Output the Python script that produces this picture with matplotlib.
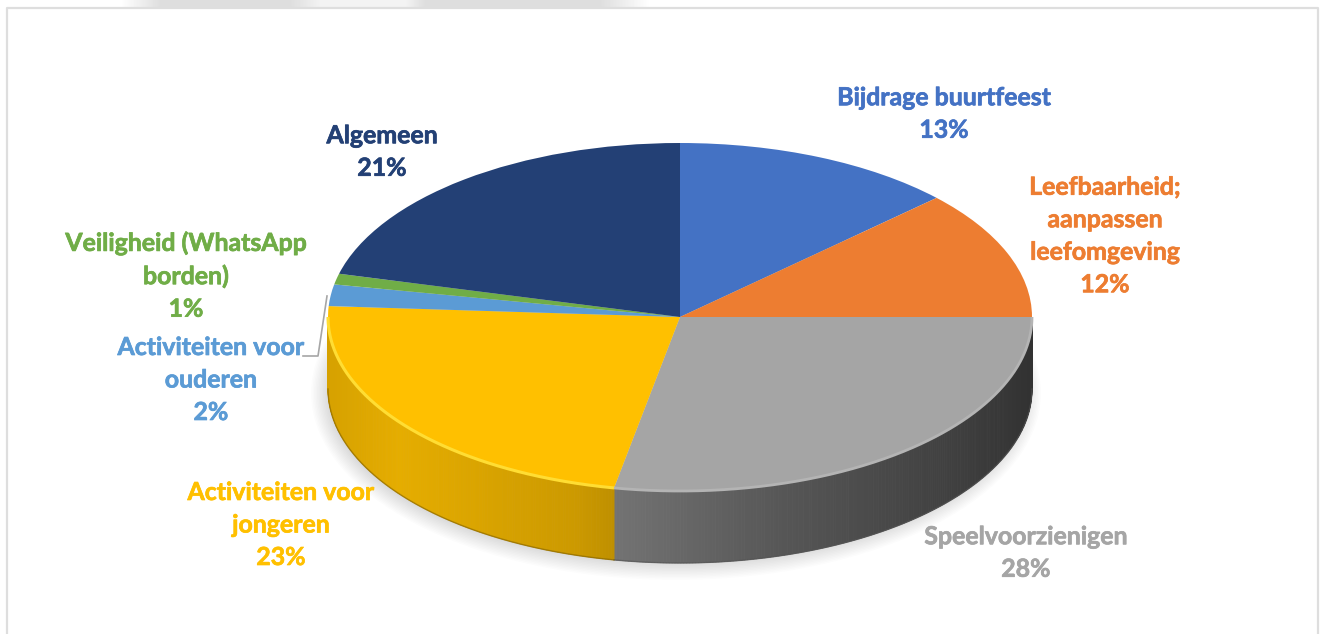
import numpy as np
import matplotlib.pyplot as plt
import matplotlib.patheffects as pe
from matplotlib.patches import Ellipse

plt.rcParams['font.family'] = ['Lato', 'DejaVu Sans']
plt.rcParams['font.weight'] = 'bold'

categories = ['Bijdrage buurtfeest', 'Leefbaarheid;\naanpassen\nleefomgeving', 'Speelvoorzienigen',
              'Activiteiten voor\njongeren', 'Activiteiten voor\nouderen', 'Veiligheid (WhatsApp\nborden)', 'Algemeen']
values = [13, 12, 28, 23, 2, 1, 21]
colors = ['#4472C4', '#ED7D31', '#A5A5A5', '#FFC000', '#5B9BD5', '#70AD47', '#234075']
label_pos = [(944, 114), (1105, 236), (1026, 553), (281, 525), (211, 380), (186, 276), (382, 152)]

W, H = 1333, 634
CX, CY, RX, RY, DEPTH = 680, 317, 352, 174, 72


def px_axes(fig, x0, y0, w, h):
    return fig.add_axes([x0 / W, 1 - (y0 + h) / H, w / W, h / H])


def shade(color, f):
    return np.clip(np.array(plt.matplotlib.colors.to_rgb(color)) * f, 0, 1)


def wall_factor(i, sx):
    # light falls from the left, darker to the right
    if colors[i] == '#FFC000':
        return np.interp(sx, [-1, -0.8, -0.3, 0], [0.84, 0.90, 0.80, 0.66])
    return np.interp(sx, [-0.2, 0.3, 0.8, 1], [0.70, 0.52, 0.38, 0.30])


fig = plt.figure(figsize=(W / 100, H / 100), dpi=100, facecolor='white')

# page background, frame, labels: pixel coordinates
bg = px_axes(fig, 0, 0, W, H)
bg.axis('off')
strip_x = [120, 160, 290, 320, 405, 425, 600, 650]
strip_v = [1.0, 0.87, 0.87, 0.95, 0.95, 0.87, 0.87, 1.0]
bg.imshow(np.interp(np.arange(W), strip_x, strip_v)[None, :], cmap='gray', vmin=0, vmax=1,
          extent=(0, W, 7, 0), aspect='auto')
bg.set_xlim(0, W)
bg.set_ylim(H, 0)
bg.plot([6.5, 6.5, 1317.5, 1317.5], [H, 7.5, 7.5, H], color='#dedede', lw=1.6)

# soft shadow under the pie
for k in range(14):
    bg.add_patch(Ellipse((CX - 4, CY + DEPTH + 4), 2 * RX + 26 - 3 * k, 2 * RY + 26 - 3 * k,
                         color='#000000', alpha=0.012, lw=0, zorder=1))

ax = px_axes(fig, CX - RX, CY - RY, 2 * RX, 2 * RY)
ax.patch.set_alpha(0)

# side wall, thin slices so the shading can run along it
fractions = np.cumsum([0] + values) / sum(values)
d = DEPTH / RY
for i in range(len(values)):
    a0 = max(fractions[i] * 2 * np.pi, np.pi / 2)
    a1 = min(fractions[i + 1] * 2 * np.pi, 3 * np.pi / 2)
    if a1 <= a0:
        continue
    edges = np.linspace(a0, a1, int((a1 - a0) * 120) + 2)
    for t0, t1 in zip(edges[:-1], edges[1:]):
        xs = np.sin([t0, t1, t1, t0])
        ys = np.cos([t0, t1, t1, t0]) - np.array([0, 0, d, d])
        c = shade(colors[i], wall_factor(i, np.sin((t0 + t1) / 2)))
        ax.fill(xs, ys, color=c, lw=0.6, clip_on=False, zorder=1)
    # darker lip at the bottom of the wall
    t = np.linspace(a0, a1, 200)
    ax.plot(np.sin(t), np.cos(t) - d, color=shade(colors[i], 0.5), lw=1.0, alpha=0.6, clip_on=False, zorder=1.5)

wedges, _ = ax.pie(values, colors=colors, startangle=90, counterclock=False, radius=1,
                   wedgeprops={'linewidth': 0, 'zorder': 2})
for w in wedges:
    w.set_clip_on(False)
ax.set_xlim(-1, 1)
ax.set_ylim(-1, 1)
ax.set_aspect('auto')

# bevel along the front rim
for i, light, width in [(3, '#FFDD33', 2.2), (2, '#B4B4B4', 2.0)]:
    a0 = max(fractions[i] * 2 * np.pi, np.pi / 2)
    a1 = min(fractions[i + 1] * 2 * np.pi, 3 * np.pi / 2)
    t = np.linspace(a0, a1, 300)
    ax.plot(np.sin(t), np.cos(t), color=light, lw=width, clip_on=False, zorder=3, solid_capstyle='butt')

# overlay for the labels and leader line
top = px_axes(fig, 0, 0, W, H)
top.set_xlim(0, W)
top.set_ylim(H, 0)
top.axis('off')
top.patch.set_alpha(0)
top.plot([303, 318, 327], [356, 356, 296], color='#a6a6a6', lw=1.2)
for cat, val, col, (x, y) in zip(categories, values, colors, label_pos):
    top.text(x, y, f'{cat}\n{val}%', color=col, ha='center', va='center', fontsize=17.9,
             fontweight='bold', linespacing=1.5,
             path_effects=[pe.withStroke(linewidth=0.5, foreground=col)])

fig.savefig('out.png', dpi=100)
